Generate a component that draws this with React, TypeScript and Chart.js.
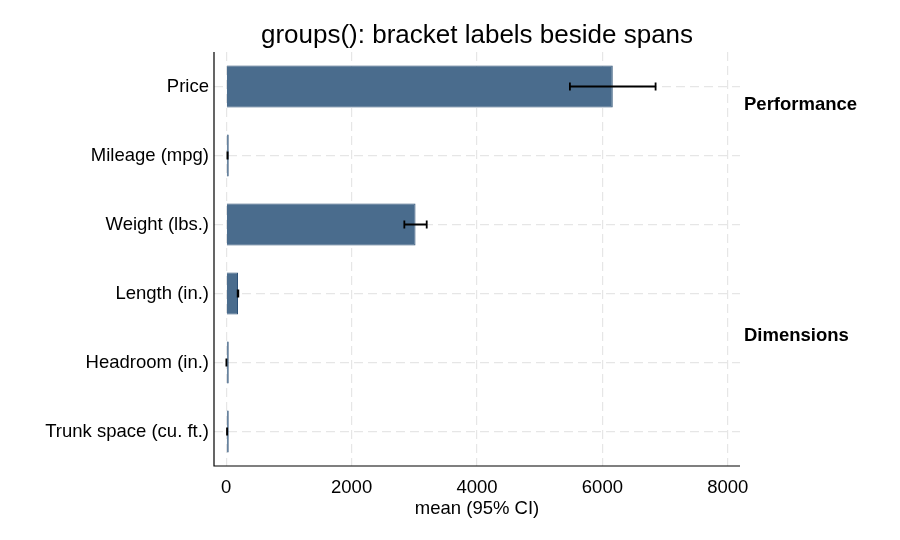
import React, { useEffect, useRef } from 'react';
import { Chart, registerables, Plugin } from 'chart.js';

Chart.register(...registerables);

const categories = [
  'Price',
  'Mileage (mpg)',
  'Weight (lbs.)',
  'Length (in.)',
  'Headroom (in.)',
  'Trunk space (cu. ft.)',
];
const means = [6165.3, 21.3, 3019.5, 187.9, 3.0, 13.8];
const ciLow = [5481.9, 20.0, 2841.0, 182.9, 2.8, 12.8];
const ciHigh = [6848.6, 22.6, 3197.9, 192.9, 3.2, 14.7];
const xTicks = [0, 2000, 4000, 6000, 8000];
const groupLabels = ['Performance', 'Dimensions'];
// where each bracket label sits, in category units (0 = Price)
const groupLabelAt = [0.27, 3.61];

const FONT = '"Liberation Sans", Arial, Helvetica, sans-serif';

const overlay: Plugin<'bar'> = {
  id: 'overlay',
  afterDatasetsDraw(chart) {
    const { ctx, chartArea, scales } = chart;
    const x = scales.x;
    const y = scales.y;
    ctx.save();

    // error bars
    ctx.strokeStyle = '#000';
    ctx.lineWidth = 1.8;
    means.forEach((_, i) => {
      const yc = y.getPixelForValue(i);
      const x0 = x.getPixelForValue(ciLow[i]);
      const x1 = x.getPixelForValue(ciHigh[i]);
      ctx.beginPath();
      ctx.moveTo(x0, yc);
      ctx.lineTo(x1, yc);
      ctx.moveTo(x0, yc - 4);
      ctx.lineTo(x0, yc + 4);
      ctx.moveTo(x1, yc - 4);
      ctx.lineTo(x1, yc + 4);
      ctx.stroke();
    });

    // axis lines
    ctx.lineWidth = 1.2;
    ctx.beginPath();
    ctx.moveTo(chartArea.left, chartArea.top);
    ctx.lineTo(chartArea.left, chartArea.bottom);
    ctx.lineTo(chartArea.right, chartArea.bottom);
    ctx.stroke();

    // title
    ctx.fillStyle = '#000';
    ctx.font = `26px ${FONT}`;
    ctx.textAlign = 'center';
    ctx.textBaseline = 'middle';
    ctx.fillText(
      'groups(): bracket labels beside spans',
      (chartArea.left + chartArea.right) / 2,
      36
    );

    // group labels
    ctx.font = `bold 18.5px ${FONT}`;
    ctx.textAlign = 'left';
    groupLabels.forEach((g, i) => {
      ctx.fillText(g, chartArea.right + 4, y.getPixelForValue(groupLabelAt[i]));
    });
    ctx.restore();
  },
};

export default function App() {
  const canvasRef = useRef<HTMLCanvasElement>(null);

  useEffect(() => {
    if (!canvasRef.current) return;
    const chart = new Chart(canvasRef.current, {
      type: 'bar',
      data: {
        labels: categories,
        datasets: [
          {
            data: means,
            backgroundColor: '#4a6c8d',
            borderColor: '#2c5075',
            borderWidth: 1,
            barPercentage: 0.61,
            categoryPercentage: 1,
            minBarLength: 2.5,
          },
        ],
      },
      options: {
        indexAxis: 'y',
        animation: false,
        responsive: true,
        maintainAspectRatio: false,
        layout: { padding: { top: 52, right: 160, left: 0, bottom: 0 } },
        plugins: {
          legend: { display: false },
          tooltip: { enabled: false },
        },
        scales: {
          x: {
            type: 'linear',
            min: -195,
            max: 8195,
            afterBuildTicks: (s) => {
              s.ticks = xTicks.map((v) => ({ value: v }));
            },
            afterFit: (s) => {
              s.height = 74;
            },
            grid: { color: '#e6e6e6', lineWidth: 1.2, drawTicks: false },
            border: { display: false, dash: [9, 5] },
            ticks: {
              color: '#000',
              padding: 11,
              font: { family: FONT, size: 18.5 },
              callback: (v) => String(v),
            },
            title: {
              display: true,
              text: 'mean (95% CI)',
              color: '#000',
              font: { family: FONT, size: 18.5 },
              padding: { top: 0, bottom: 20 },
            },
          },
          y: {
            type: 'category',
            offset: true,
            afterFit: (s) => {
              s.width = 214;
            },
            grid: { color: '#e6e6e6', lineWidth: 1.2, drawTicks: false, offset: false },
            border: { display: false, dash: [9, 5] },
            ticks: {
              color: '#000',
              padding: 5,
              font: { family: FONT, size: 18.5 },
            },
          },
        },
      },
      plugins: [overlay],
    });
    return () => chart.destroy();
  }, []);

  return (
    <div style={{ position: 'absolute', left: 0, top: 0, width: 900, height: 540, background: '#fff' }}>
      <canvas ref={canvasRef}></canvas>
    </div>
  );
}
